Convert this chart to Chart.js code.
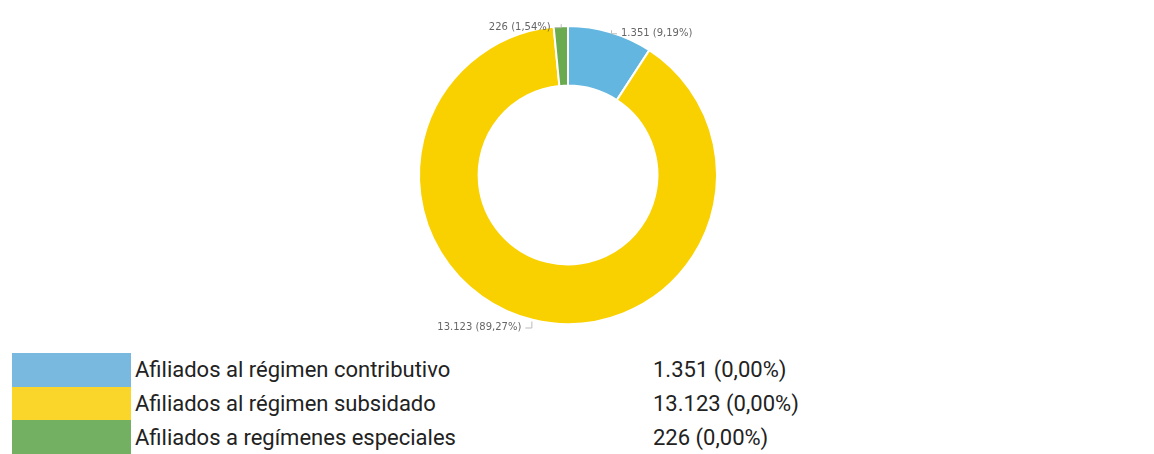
<!DOCTYPE html>
<html>
<head>
<meta charset="utf-8">
<script src="https://cdn.jsdelivr.net/npm/chart.js@4/dist/chart.umd.min.js"></script>
<style>
  html, body { margin: 0; padding: 0; background: #fff; }
  body { width: 1154px; height: 454px; overflow: hidden; position: relative; font-family: Roboto, sans-serif; }
  #wrap { position: absolute; left: 0; top: 0; width: 1154px; height: 346px; }
  #legend { position: absolute; left: 12px; top: 353px; border-collapse: collapse; }
  #legend td { padding: 0; height: 33.7px; font-size: 22px; color: #222; white-space: nowrap; }
  #legend td.box { width: 119px; }
  #legend td.name { padding-left: 4px; width: 518px; }
</style>
</head>
<body>
<div id="wrap"><canvas id="chart"></canvas></div>
<table id="legend"></table>
<script>
// data
const labels = ['Afiliados al régimen contributivo', 'Afiliados al régimen subsidado', 'Afiliados a regímenes especiales'];
const values = [1351, 13123, 226];
const sliceLabels = ['1.351 (9,19%)', '13.123 (89,27%)', '226 (1,54%)'];
const legendValues = ['1.351 (0,00%)', '13.123 (0,00%)', '226 (0,00%)'];
const sliceColors = ['#62b6e0', '#f9d000', '#6aab4f'];
const legendColors = ['#79b9e0', '#fad52a', '#74b062'];

// outside labels with small leader lines
const outLabels = {
  id: 'outLabels',
  afterDatasetsDraw(chart) {
    const ctx = chart.ctx;
    const meta = chart.getDatasetMeta(0);
    ctx.save();
    ctx.font = '10px "DejaVu Sans", sans-serif';
    ctx.fillStyle = '#666';
    ctx.strokeStyle = '#bbb';
    ctx.lineWidth = 1;
    ctx.textBaseline = 'middle';
    meta.data.forEach((arc, i) => {
      const p = arc.getProps(['x', 'y', 'startAngle', 'endAngle', 'outerRadius']);
      let a = (p.startAngle + p.endAngle) / 2;
      if (i === 1) a = Math.PI / 2 + 0.245; // bottom-left of the big slice
      const r = p.outerRadius;
      const x1 = p.x + Math.cos(a) * (r + 2);
      const y1 = p.y + Math.sin(a) * (r + 2);
      const right = i === 0;
      const ty = y1 + (i === 1 ? 6 : 3);
      const x2 = x1 + (right ? 6 : -6);
      ctx.beginPath();
      ctx.moveTo(x1 + 0.5, y1);
      ctx.lineTo(x1 + 0.5, ty + 0.5);
      ctx.lineTo(x2, ty + 0.5);
      ctx.stroke();
      ctx.textAlign = right ? 'left' : 'right';
      ctx.fillText(sliceLabels[i], x2 + (right ? 4 : -4), ty);
    });
    ctx.restore();
  }
};

new Chart(document.getElementById('chart'), {
  type: 'doughnut',
  data: {
    labels: labels,
    datasets: [{
      data: values,
      backgroundColor: sliceColors,
      borderColor: '#fff',
      borderWidth: 2
    }]
  },
  options: {
    responsive: true,
    maintainAspectRatio: false,
    animation: false,
    cutout: '60%',
    layout: { padding: { top: 25, bottom: 21, left: 0, right: 18 } },
    plugins: {
      legend: { display: false },
      tooltip: { enabled: false }
    }
  },
  plugins: [outLabels]
});

// legend table
const table = document.getElementById('legend');
labels.forEach((name, i) => {
  const tr = document.createElement('tr');
  tr.innerHTML = `<td class="box" style="background:${legendColors[i]}"></td><td class="name">${name}</td><td>${legendValues[i]}</td>`;
  table.appendChild(tr);
});
</script>
</body>
</html>
